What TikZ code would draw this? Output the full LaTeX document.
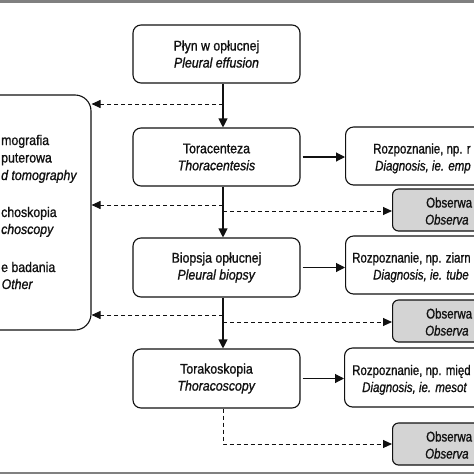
\documentclass[tikz,border=0pt]{standalone}
\usepackage{fontspec}
\setmainfont{Liberation Sans}[FakeStretch=0.88,FakeBold=1.0]
\newfontfamily\narrowfont{Liberation Sans}[FakeStretch=0.82,FakeBold=1.0]
\newfontfamily\sidefont{Liberation Sans}[FakeStretch=0.88,FakeBold=1.0]
\usetikzlibrary{arrows.meta}
\definecolor{obsgray}{HTML}{D4D4D4}
\definecolor{bargray}{HTML}{808080}
\definecolor{ink}{HTML}{111111}
\begin{document}
\begin{tikzpicture}[x=1pt,y=-1pt,
  font=\fontsize{14}{17}\selectfont, text=ink,
  mainbox/.style={draw=ink, rounded corners=8pt, line width=1.1pt, minimum width=167pt, minimum height=58pt, align=center, inner sep=2pt},
  diagbox/.style={draw=ink, rounded corners=8pt, line width=1.1pt, minimum height=58pt, anchor=west},
  obsbox/.style={draw=ink, fill=obsgray, rounded corners=6pt, line width=1.1pt, minimum width=133pt, minimum height=42pt, anchor=west},
  sidebox/.style={draw=ink, rounded corners=16pt, line width=1.1pt, minimum width=153pt, minimum height=235pt},
  sidetext/.style={inner sep=0pt, anchor=base west, font=\sidefont\fontsize{14}{17}\selectfont},
  rtext/.style={inner sep=0pt, anchor=base west, font=\narrowfont\fontsize{14}{17}\selectfont},
  solidarrow/.style={draw=ink, line width=1.1pt, -{Triangle[length=9pt,width=9pt]}},
  dasharrow/.style={draw=ink, line width=0.9pt, dash pattern=on 4pt off 3pt, -{Triangle[length=9pt,width=8pt]}}
]
\useasboundingbox (0,0) rectangle (474,474);
\clip (0,0) rectangle (474,474);
\fill[white] (0,0) rectangle (474,474);
\fill[bargray] (0,0) rectangle (474,3);
\fill[bargray] (0,472) rectangle (474,476);

% main column
\node[mainbox] (b1) at (216.5,54) {Płyn w opłucnej\\\textit{Pleural effusion}};
\node[mainbox] (b2) at (216.5,157) {Toracenteza\\\textit{Thoracentesis}};
\node[mainbox, minimum height=59pt] (b3) at (216.5,267.5) {Biopsja opłucnej\\\textit{Pleural biopsy}};
\node[mainbox, minimum height=59pt] (b4) at (216.5,378.5) {Torakoskopia\\\textit{Thoracoscopy}};

% left box (cut by the picture edge)
\node[sidebox] (L) at (14.5,212.5) {};
\node[sidetext] (l1) at (1,145) {mografia};
\node[sidetext] (l2) at (1,162.5) {puterowa};
\node[sidetext] (l3) at (1,180) {\itshape d tomography};
\node[sidetext] (l4) at (1,217) {choskopia};
\node[sidetext] (l5) at (1,234) {\itshape choscopy};
\node[sidetext] (l6) at (1,272) {e badania};
\node[sidetext] (l7) at (1.5,289) {\itshape Other};

% diagnosis boxes (cut by the picture edge)
\node[diagbox, minimum width=196pt] (d1) at (345,156) {};
\node[diagbox, minimum width=222pt] (d2) at (345,265) {};
\node[diagbox, minimum width=199pt, minimum height=59pt] (d3) at (344,377.5) {};
\node[rtext] (d1a) at (373,153.5) {Rozpoznanie, np. r};
\node[rtext] (d1b) at (375,170.5) {\itshape Diagnosis, ie. emp};
\node[rtext] (d2a) at (352,262.5) {Rozpoznanie, np. ziarn};
\node[rtext] (d2b) at (373,279.5) {\itshape Diagnosis, ie. tube};
\node[rtext] (d3a) at (352,375) {Rozpoznanie, np. międ};
\node[rtext] (d3b) at (362,392) {\itshape Diagnosis, ie. mesot};

% observation boxes (cut by the picture edge)
\node[obsbox] (o1) at (392,210) {};
\node[obsbox] (o2) at (392,321) {};
\node[obsbox] (o3) at (392,444) {};
\node[rtext] (o1a) at (426,207.5) {Obserwa};
\node[rtext] (o1b) at (425,224.5) {\itshape Observa};
\node[rtext] (o2a) at (426,318.5) {Obserwa};
\node[rtext] (o2b) at (425,335.5) {\itshape Observa};
\node[rtext] (o3a) at (426,441.5) {Obserwa};
\node[rtext] (o3b) at (425,458.5) {\itshape Observa};

% spine junctions
\coordinate (sp) at (223,0);
\coordinate (j1) at (223,104);
\coordinate (j2) at (223,205);
\coordinate (j3) at (223,211);
\coordinate (j4) at (223,315);
\coordinate (j5) at (223,322);

% vertical solid arrows
\draw[solidarrow] (b1.south -| sp) -- (b2.north -| sp);
\draw[solidarrow] (b2.south -| sp) -- (b3.north -| sp);
\draw[solidarrow] (b3.south -| sp) -- (b4.north -| sp);

% dashed to left box
\draw[dasharrow] (j1) -- (L.east |- j1);
\draw[dasharrow] (j2) -- (L.east |- j2);
\draw[dasharrow] (j4) -- (L.east |- j4);

% dashed to observation
\draw[dasharrow] (j3) -- (o1.west |- j3);
\draw[dasharrow] (j5) -- (o2.west |- j5);
\draw[dasharrow] (b4.south -| sp) |- (o3.west);

% solid to diagnosis
\draw[solidarrow, shorten <=2pt] (b2.east) -- (d1.west |- b2.east);
\draw[solidarrow, shorten <=2pt] (b3.east) -- (d2.west |- b3.east);
\draw[solidarrow, shorten <=2pt] (b4.east) -- (d3.west |- b4.east);
\end{tikzpicture}
\end{document}
